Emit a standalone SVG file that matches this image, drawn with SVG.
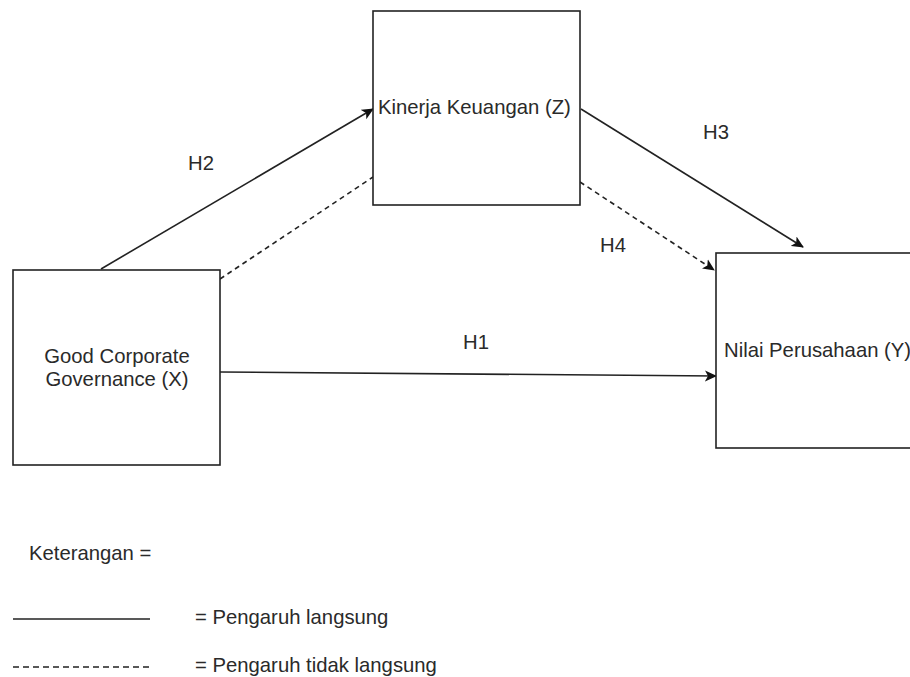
<svg xmlns="http://www.w3.org/2000/svg" width="910" height="677" viewBox="0 0 910 677">
<style>
.box{fill:#fff;stroke:#222;stroke-width:1.6}
.t{font-family:"Liberation Sans",Arial,sans-serif;font-size:20.3px;fill:#2a2a2a}
.c{fill:none;stroke:#222;stroke-width:1.6}
.d{stroke-dasharray:5 4}
</style>
<defs>
<marker id="ah" viewBox="0 0 12 12" refX="11" refY="6" markerWidth="12" markerHeight="12" markerUnits="userSpaceOnUse" orient="auto">
<path d="M0,0.5 L12,6 L0,11.5 L3,6 Z" fill="#111"/>
</marker>
</defs>
<rect width="910" height="677" fill="#fff"/>
<g id="connectors">
<line class="c" x1="101" y1="269" x2="373" y2="109" marker-end="url(#ah)"/>
<line class="c d" x1="220" y1="279" x2="373" y2="177"/>
<line class="c" x1="581" y1="109" x2="803" y2="247" marker-end="url(#ah)"/>
<line class="c d" x1="580" y1="182" x2="714" y2="270" marker-end="url(#ah)"/>
<line class="c" x1="220" y1="372" x2="716" y2="376" marker-end="url(#ah)"/>
<text class="t" x="188" y="170">H2</text>
<text class="t" x="703" y="139">H3</text>
<text class="t" x="600" y="252">H4</text>
<text class="t" x="463" y="349">H1</text>
</g>
<g id="nodeZ">
<rect class="box" x="373" y="11" width="207" height="194"/>
<text class="t" x="378" y="114">Kinerja Keuangan (Z)</text>
</g>
<g id="nodeX">
<rect class="box" x="13" y="270" width="207" height="195"/>
<text class="t" x="117" y="363" text-anchor="middle">Good Corporate</text>
<text class="t" x="117" y="386" text-anchor="middle">Governance (X)</text>
</g>
<g id="nodeY">
<rect class="box" x="716" y="253" width="207" height="195"/>
<text class="t" x="724" y="357">Nilai Perusahaan (Y)</text>
</g>
<g id="legend">
<text class="t" x="29" y="560">Keterangan =</text>
<line class="c" x1="13" y1="619" x2="150" y2="619"/>
<text class="t" x="195" y="624">= Pengaruh langsung</text>
<line class="c" x1="13" y1="667" x2="150" y2="667" style="stroke-dasharray:6 4"/>
<text class="t" x="195" y="672">= Pengaruh tidak langsung</text>
</g>
</svg>
